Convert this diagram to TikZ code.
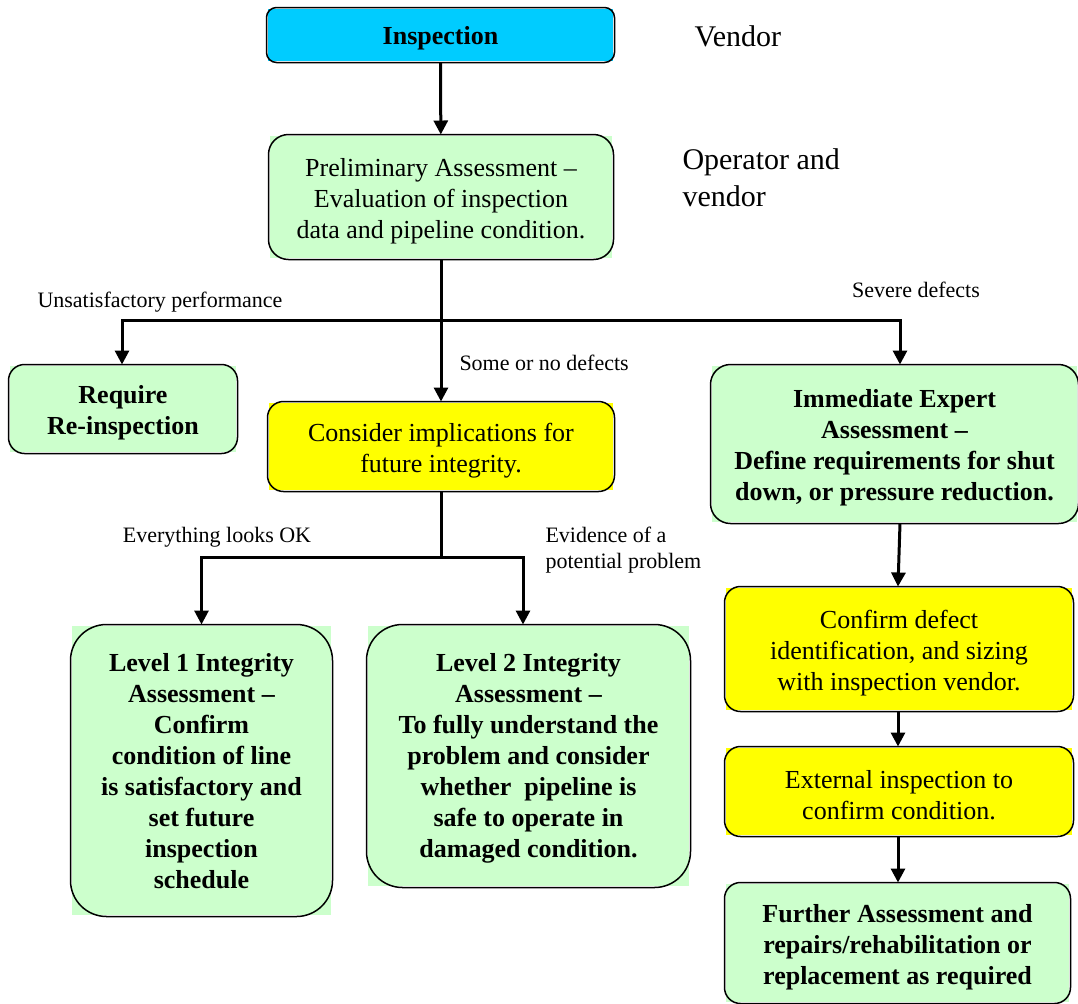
\documentclass[tikz,border=0pt]{standalone}
\usepackage{fontspec}
\setmainfont{Liberation Serif}
\usetikzlibrary{arrows.meta}
\definecolor{boxcyan}{HTML}{00CCFF}
\definecolor{boxgreen}{HTML}{CCFFCC}
\definecolor{boxyellow}{HTML}{FFFF00}
% strut in the first line, to set the text a little lower in its box
\newcommand\lowered[1][12.5pt]{\rule{0pt}{#1}}
\begin{document}
\begin{tikzpicture}[x=0.5pt ,y=-0.5pt ,
line width =1.5pt ,
flow/.style ={-{Triangle[length=7pt,width=7pt]}},
box/.style ={ rectangle ,inner sep =0pt ,align =center ,
font =\fontsize{13}{15.5}\selectfont},
cyanbox/.style ={box ,fill =boxcyan ,font =\fontsize{13}{15.5}\selectfont\bfseries},
greenbox/.style ={box ,fill =boxgreen},
boldbox/.style ={box ,fill =boxgreen ,font =\fontsize{13}{15.5}\selectfont\bfseries},
yellowbox/.style ={box ,fill =boxyellow},
note/.style ={font =\fontsize{11}{13}\selectfont ,align =left ,inner sep =0pt},
role/.style ={font =\fontsize{15}{18.5}\selectfont ,align =left ,inner sep =0pt}]
\useasboundingbox (0,0) rectangle (1078,1003);
\node[cyanbox] (insp) at (440.5,35) [minimum width =172.5pt ,minimum height =26pt] {\lowered Inspection};
\node[greenbox] (prelim) at (441,197) [minimum width =171pt ,minimum height =61pt]
{\lowered[13.5pt]Preliminary Assessment --\\ Evaluation of inspection\\ data and pipeline condition.};
\node[boldbox] (reinsp) at (123,409) [minimum width =113pt ,minimum height =43pt]
{\lowered[13pt]Require\\ Re-inspection};
\node[yellowbox] (consider) at (441,446.5) [minimum width =172pt ,minimum height =43.5pt]
{\lowered[13pt]Consider implications for\\ future integrity.};
\node[boldbox] (expert) at (894.5,444) [minimum width =182.5pt ,minimum height =78pt]
{\lowered Immediate Expert\\ Assessment --\\ Define requirements for shut\\ down, or pressure reduction.};
\node[boldbox] (level1) at (201.5,770.5) [minimum width =129.5pt ,minimum height =144.5pt]
{\lowered[10pt]Level 1 Integrity\\ Assessment --\\ Confirm\\ condition of line\\ is satisfactory and\\ set future\\ inspection\\ schedule};
\node[boldbox] (level2) at (528.5,756) [minimum width =160.5pt ,minimum height =130pt]
{\lowered[11pt]Level 2 Integrity\\ Assessment --\\ To fully understand the\\ problem and consider\\ whether\ \ pipeline is\\ safe to operate in\\ damaged condition.};
\node[yellowbox] (sizing) at (899,649) [minimum width =173pt ,minimum height =61pt]
{\lowered[13pt]Confirm defect\\ identification, and sizing\\ with inspection vendor.};
\node[yellowbox] (external) at (899,791.5) [minimum width =173pt ,minimum height =43.5pt]
{\lowered External inspection to\\ confirm condition.};
\node[boldbox] (further) at (897.5,943) [minimum width =171.5pt ,minimum height =59pt]
{\lowered[13.5pt]Further Assessment and\\ repairs/rehabilitation or\\ replacement as required};
% rounded borders over the square fills
\foreach \n/\r in {insp/5pt ,prelim/10pt ,reinsp/8pt ,consider/8pt ,expert/10pt ,
level1/18pt ,level2/18pt ,sizing/8pt ,external/8pt ,further/8pt}
\draw[line width =0.75pt ,rounded corners =\r] (\n.south west) rectangle (\n.north east);
\node[role] (vendor) at (693,36) [anchor =west] {Vendor};
\node[role] (opvendor) at (681,178) [anchor =west] {Operator and\\ vendor};
\node[note] (unsat) at (160,302) {Unsatisfactory performance};
\node[note] (severe) at (916,290) {Severe defects};
\node[note] (somedef) at (458,363) [anchor =west] {Some or no defects};
\node[note] (allok) at (217,537) {Everything looks OK};
\node[note] (evidence) at (544,550) [anchor =west] {Evidence of a\\ potential problem};
\coordinate (split1) at (441,320);
\coordinate (split2) at (441,557);
\draw[flow] (insp) -- (prelim);
\draw (prelim) -- (split1);
\draw[flow] (split1) -| ([xshift=-0.5pt]reinsp.north);
\draw[flow] (split1) -| ([xshift=2.75pt]expert.north);
\draw[flow] (split1) -- (consider);
\draw (consider) -- (split2);
\draw[flow] (split2) -| (level1.north);
\draw[flow] (split2) -| ([xshift=-2.75pt]level2.north);
\draw[flow] ([xshift=2.75pt]expert.south) -- ([xshift=-0.5pt]sizing.north);
\draw[flow] ([xshift=-0.5pt]sizing.south) -- ([xshift=-0.5pt]external.north);
\draw[flow] ([xshift=-0.5pt]external.south) -- ([xshift=0.25pt]further.north);
\end{tikzpicture}
\end{document}
